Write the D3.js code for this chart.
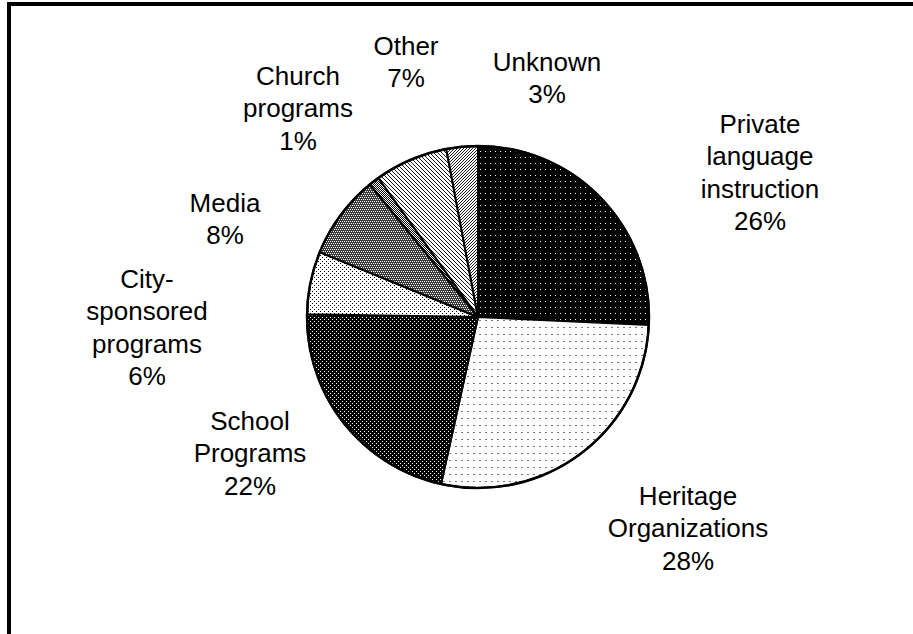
<!DOCTYPE html>
<html>
<head>
<meta charset="utf-8">
<script src="https://cdn.jsdelivr.net/npm/d3@7"></script>
<style>
  html, body { margin: 0; padding: 0; background: #fff; }
  svg { display: block; }
  text { font-family: "Liberation Sans", Arial, Helvetica, sans-serif; fill: #000; }
</style>
</head>
<body>
<svg id="chart" width="913" height="634"></svg>
<script>
// Sources of language learning, share of respondents (clockwise from 12 o'clock)
const categories = [
  "Private\nlanguage\ninstruction",
  "Heritage\nOrganizations",
  "School\nPrograms",
  "City-\nsponsored\nprograms",
  "Media",
  "Church\nprograms",
  "Other",
  "Unknown"
];
const percents = [26, 28, 22, 6, 8, 1, 7, 3];
const patternIds = ["pPrivate", "pHeritage", "pSchool", "pCity", "pMedia", "pChurch", "pOther", "pUnknown"];

// label block anchors: centre x, centre y of first line
const labelLayout = [
  [760, 124], [688, 496], [250, 421], [147, 279],
  [225, 203], [298, 76], [406, 46], [547, 62]
];

const W = 913, H = 634;
const cx = 478, cy = 317, R = 171;
const fontSize = 26, lineGap = 32.3;

const svg = d3.select("#chart");
const defs = svg.append("defs");

// --- fill patterns -------------------------------------------------------
function pattern(id, w, h, bg, draw) {
  const p = defs.append("pattern").attr("id", id)
    .attr("patternUnits", "userSpaceOnUse")
    .attr("width", w).attr("height", h);
  p.append("rect").attr("width", w).attr("height", h).attr("fill", bg);
  draw(p);
}
function px(p, pts, color, w = 1, h = 1) {
  pts.forEach(([x, y]) => p.append("rect").attr("x", x).attr("y", y)
    .attr("width", w).attr("height", h).attr("fill", color));
}

pattern("pPrivate", 5, 6, "#000", p => px(p, [[2, 2]], "#fff"));
pattern("pHeritage", 6, 7, "#fff", p => px(p, [[1, 3]], "#777", 2, 1));
pattern("pSchool", 4, 4, "#000", p => px(p, [[0, 0], [2, 2]], "#fff"));
pattern("pCity", 4, 4, "#fff", p => px(p, [[0, 0], [2, 2]], "#000"));
pattern("pMedia", 4, 4, "#3a3a3a", p => px(p, [[0, 0], [2, 0], [1, 2], [3, 2]], "#fff"));
pattern("pChurch", 2, 2, "#fff", p => px(p, [[0, 0], [1, 1]], "#000"));
pattern("pOther", 4, 4, "#fff", p => {
  p.append("path").attr("d", "M-1,-1L5,5M-1,3L1,5M3,-1L5,1")
    .attr("stroke", "#000").attr("stroke-width", 0.9);
});
pattern("pUnknown", 3, 3, "#fff", p => {
  p.append("path").attr("d", "M-1,4L4,-1M-1,1L1,-1M2,4L4,2")
    .attr("stroke", "#000").attr("stroke-width", 0.9);
});

// --- frame ---------------------------------------------------------------
svg.append("path")
  .attr("d", `M9,${H} V4 H${W}`)
  .attr("fill", "none").attr("stroke", "#000").attr("stroke-width", 4);

// --- pie -----------------------------------------------------------------
const data = categories.map((c, i) => ({ label: c, value: percents[i], pat: patternIds[i], pos: labelLayout[i] }));

const pie = d3.pie().sort(null).value(d => d.value).startAngle(0).endAngle(2 * Math.PI);
const arc = d3.arc().innerRadius(0).outerRadius(R);

const g = svg.append("g").attr("transform", `translate(${cx},${cy})`);
g.selectAll("path.slice")
  .data(pie(data))
  .join("path")
  .attr("class", "slice")
  .attr("d", arc)
  .attr("fill", d => `url(#${d.data.pat})`)
  .attr("stroke", "#000")
  .attr("stroke-width", 2)
  .attr("stroke-linejoin", "round");

g.append("circle").attr("r", R).attr("fill", "none")
  .attr("stroke", "#000").attr("stroke-width", 2.5);

// --- labels --------------------------------------------------------------
const labels = svg.append("g").attr("font-size", fontSize).attr("text-anchor", "middle");
data.forEach(d => {
  const lines = d.label.split("\n").concat([d.value + "%"]);
  const t = labels.append("text");
  lines.forEach((ln, i) => {
    t.append("tspan")
      .attr("x", d.pos[0])
      .attr("y", d.pos[1] + i * lineGap)
      .attr("dy", "0.35em")
      .text(ln);
  });
});
</script>
</body>
</html>
